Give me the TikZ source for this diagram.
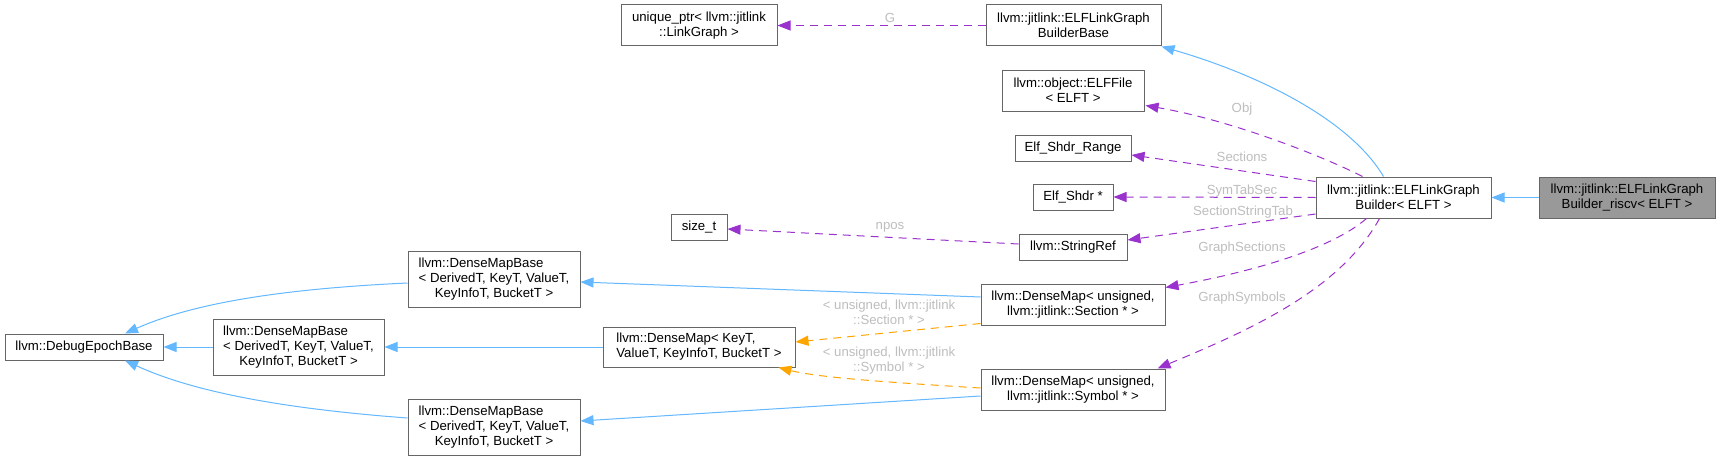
\documentclass[tikz,border=0pt]{standalone}
\usepackage{fontspec}
\setmainfont{Liberation Sans}
\usetikzlibrary{arrows.meta,calc}
\definecolor{edgeblue}{HTML}{63B8FF}
\definecolor{edgepurple}{HTML}{9A32CD}
\definecolor{edgeorange}{HTML}{FFA500}
\definecolor{nodeborder}{HTML}{666666}
\definecolor{labelgray}{HTML}{BEBEBE}
\definecolor{nodefill}{HTML}{999999}
\begin{document}
\begin{tikzpicture}[x=1pt,y=-1pt,
  box/.style={draw=nodeborder, line width=1pt, fill=white, inner sep=0pt,
    align=center, font=\fontsize{13.2}{15}\selectfont, text=black},
  hl/.style={box, fill=nodefill},
  elabel/.style={inner sep=0pt, align=center, text=labelgray,
    font=\fontsize{13.2}{15}\selectfont},
  inherit/.style={-{Triangle[length=13pt,width=10pt,fill=edgeblue]}, draw=edgeblue, line width=1pt},
  uses/.style={-{Triangle[length=13pt,width=10pt,fill=edgepurple]}, draw=edgepurple, line width=1pt, dash pattern=on 8pt off 6pt},
  templ/.style={-{Triangle[length=13pt,width=10pt,fill=edgeorange]}, draw=edgeorange, line width=1pt, dash pattern=on 8pt off 6pt}]

\fill[white] (0,0) rectangle (1720,460);
\useasboundingbox (0,0) rectangle (1720,460);

% nodes
\node[hl, minimum width=176pt, minimum height=41pt] (riscv) at (1627,197.5)
  {llvm::jitlink::ELFLinkGraph\\Builder\_riscv< ELFT >};
\node[box, minimum width=175pt, minimum height=41pt] (builder) at (1403.5,197.5)
  {llvm::jitlink::ELFLinkGraph\\Builder< ELFT >};
\node[box, minimum width=175pt, minimum height=41pt] (base) at (1073.5,25.5)
  {llvm::jitlink::ELFLinkGraph\\BuilderBase};
\node[box, minimum width=156pt, minimum height=41pt] (uptr) at (699,25.5)
  {unique\_ptr< llvm::jitlink\\::LinkGraph >};
\node[box, minimum width=142pt, minimum height=41pt] (elffile) at (1073,90.5)
  {llvm::object::ELFFile\\< ELFT >};
\node[box, minimum width=116pt, minimum height=26pt] (range) at (1073,148)
  {Elf\_Shdr\_Range};
\node[box, minimum width=80pt, minimum height=26pt] (shdr) at (1073,197)
  {Elf\_Shdr *};
\node[box, minimum width=56pt, minimum height=26pt] (sizet) at (699,227)
  {size\_t};
\node[box, minimum width=108pt, minimum height=26pt] (stringref) at (1073,247)
  {llvm::StringRef};
\node[box, minimum width=184pt, minimum height=41pt] (dmsec) at (1073,304.5)
  {llvm::DenseMap< unsigned,\\ llvm::jitlink::Section * >};
\node[box, minimum width=184pt, minimum height=41pt] (dmsym) at (1073,389.5)
  {llvm::DenseMap< unsigned,\\ llvm::jitlink::Symbol * >};
\node[box, minimum width=192pt, minimum height=40pt] (dmkey) at (699,347)
  {\rlap{llvm::DenseMap< KeyT,}\phantom{ValueT, KeyInfoT, BucketT >}\\ ValueT, KeyInfoT, BucketT >};
\node[box, minimum width=172pt, minimum height=56pt] (dmbtop) at (494,279)
  {\rlap{llvm::DenseMapBase}\phantom{< DerivedT, KeyT, ValueT,}\\< DerivedT, KeyT, ValueT,\\ KeyInfoT, BucketT >};
\node[box, minimum width=171pt, minimum height=56pt] (dmbmid) at (298.5,347)
  {\rlap{llvm::DenseMapBase}\phantom{< DerivedT, KeyT, ValueT,}\\< DerivedT, KeyT, ValueT,\\ KeyInfoT, BucketT >};
\node[box, minimum width=172pt, minimum height=56pt] (dmbbot) at (494,427)
  {\rlap{llvm::DenseMapBase}\phantom{< DerivedT, KeyT, ValueT,}\\< DerivedT, KeyT, ValueT,\\ KeyInfoT, BucketT >};
\node[box, minimum width=158pt, minimum height=26pt] (debug) at (84,347)
  {llvm::DebugEpochBase};

% edge labels
\node[elabel] (lG) at (890,18) {G};
\node[elabel] (lObj) at (1242,109) {Obj};
\node[elabel] (lSections) at (1242,157) {Sections};
\node[elabel] (lSymTab) at (1242,191) {SymTabSec};
\node[elabel] (lStrTab) at (1243,212) {SectionStringTab};
\node[elabel] (lGSec) at (1242,248) {GraphSections};
\node[elabel] (lGSym) at (1242,298) {GraphSymbols};
\node[elabel] (lnpos) at (890,227) {npos};
\node[elabel] (lTSec) at (889,312) {< unsigned, llvm::jitlink\\::Section * >};
\node[elabel] (lTSym) at (889,360.5) {< unsigned, llvm::jitlink\\::Symbol * >};

% inheritance edges
\draw[inherit] (riscv.west) -- (builder.east);
\draw[inherit] ($(builder.north west)+(68,0)$) .. controls (1350,120) and (1260,75) .. (base.south east);
\draw[inherit] ($(dmsec.west)+(0,-7.5)$) -- ($(dmbtop.east)+(0,3)$);
\draw[inherit] ($(dmsym.west)+(0,6.5)$) -- ($(dmbbot.east)+(0,-6)$);
\draw[inherit] (dmkey.west) -- (dmbmid.east);
\draw[inherit] (dmbmid.west) -- (debug.east);
\draw[inherit] ($(dmbtop.west)+(0,4)$) .. controls (300,288) and (200,300) .. ($(debug.north)+(41,0)$);
\draw[inherit] ($(dmbbot.west)+(0,-9)$) .. controls (300,410) and (200,395) .. ($(debug.south)+(41,0)$);

% usage edges
\draw[uses] (base.west) -- (uptr.east);
\draw[uses] ($(builder.north west)+(47,0)$) .. controls (1320,155) and (1230,120) .. ($(elffile.south east)+(1,-6)$);
\draw[uses] ($(builder.north west)+(0,5)$) -- ($(range.east)+(0,7)$);
\draw[uses] (builder.west) -- (shdr.east);
\draw[uses] ($(builder.west)+(0,16.5)$) -- ($(stringref.east)+(0,-7)$);
\draw[uses] ($(builder.south west)+(51,0)$) .. controls (1330,250) and (1250,272) .. ($(dmsec.north east)+(0,4)$);
\draw[uses] ($(builder.south west)+(64,0)$) .. controls (1340,290) and (1250,330) .. ($(dmsym.north east)+(-8,0)$);
\draw[uses] ($(stringref.west)+(0,-3)$) -- ($(sizet.east)+(0,2)$);

% template instance edges
\draw[templ] ($(dmsec.south west)+(0,-2)$) -- ($(dmkey.east)+(0,-5)$);
\draw[templ] ($(dmsym.west)+(0,-1.5)$) .. controls (900,383) and (820,378) .. ($(dmkey.south east)+(-17,0)$);
\end{tikzpicture}
\end{document}
